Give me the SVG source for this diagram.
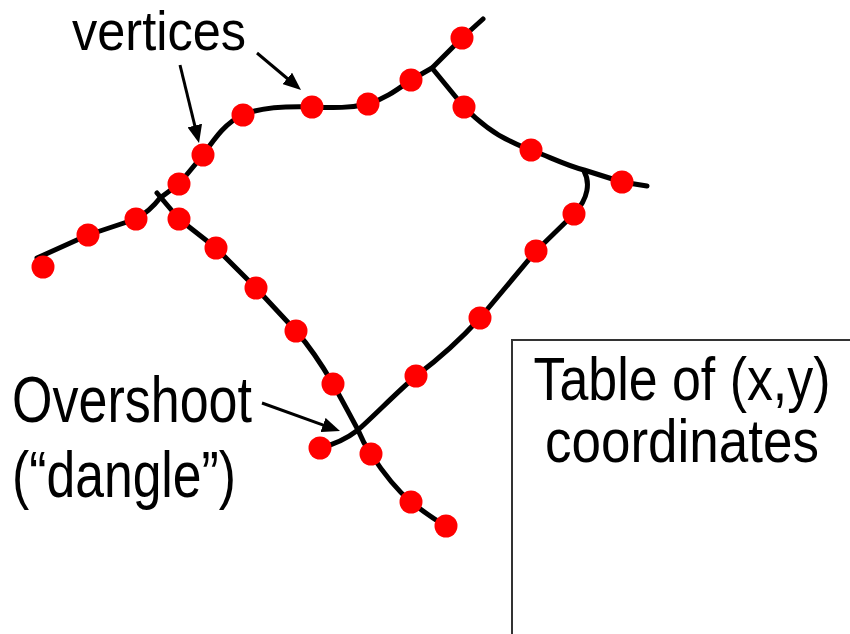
<svg xmlns="http://www.w3.org/2000/svg" width="850" height="634" viewBox="0 0 850 634">
  <style>
    .line { fill: none; stroke: #000; stroke-width: 5; stroke-linejoin: round; stroke-linecap: round; }
    .v { fill: #ff0000; }
    .arr { fill: none; stroke: #000; stroke-width: 3; marker-end: url(#ah); }
    .lbl { font-family: "Liberation Sans", Arial, sans-serif; fill: #000; }
  </style>
  <defs>
    <marker id="ah" markerUnits="userSpaceOnUse" markerWidth="18" markerHeight="15" refX="4" refY="7.5" orient="auto">
      <path d="M0,0 L18,7.5 L0,15 Z" fill="#000"/>
    </marker>
  </defs>
  <rect width="850" height="634" fill="#fff"/>

  <g id="connectors">
    <path class="line" d="M37,258 L88,235 L136,219 Q150,211 160,198 L179,184 L203,155 C215,138 226,122 243,115 C258,108 280,106 312,107 C335,108 350,108 368,104 C385,99 398,89 411,80 L432,68 L462,38 L483,19"/>
    <path class="line" d="M432,68 L464,107 C478,121 492,133 510,141 C520,146 525,148 531,150 C550,157 565,165 584,170 L622,182 L647,186"/>
    <path class="line" d="M157,193 L179,219 L216,248 L256,288 L296,331 C310,347 322,365 333,384 C342,400 350,415 358,430 C362,440 366,447 371,454 C384,474 397,490 411,502 C424,512 435,520 446,526"/>
    <path class="line" d="M584,171 C590,182 589,198 574,214 L536,251 L480,318 C460,340 440,358 416,376 C395,394 375,415 358,430 C345,440 332,445 320,448"/>
  </g>

  <g id="vertices-dots">
    <circle class="v" cx="43" cy="267" r="11.5"/>
    <circle class="v" cx="88" cy="235" r="11.5"/>
    <circle class="v" cx="136" cy="219" r="11.5"/>
    <circle class="v" cx="179" cy="184" r="11.5"/>
    <circle class="v" cx="203" cy="155" r="11.5"/>
    <circle class="v" cx="243" cy="115" r="11.5"/>
    <circle class="v" cx="312" cy="107" r="11.5"/>
    <circle class="v" cx="368" cy="104" r="11.5"/>
    <circle class="v" cx="411" cy="80" r="11.5"/>
    <circle class="v" cx="462" cy="38" r="11.5"/>
    <circle class="v" cx="464" cy="107" r="11.5"/>
    <circle class="v" cx="531" cy="150" r="11.5"/>
    <circle class="v" cx="622" cy="182" r="11.5"/>
    <circle class="v" cx="574" cy="214" r="11.5"/>
    <circle class="v" cx="536" cy="251" r="11.5"/>
    <circle class="v" cx="480" cy="318" r="11.5"/>
    <circle class="v" cx="416" cy="376" r="11.5"/>
    <circle class="v" cx="320" cy="448" r="11.5"/>
    <circle class="v" cx="179" cy="219" r="11.5"/>
    <circle class="v" cx="216" cy="248" r="11.5"/>
    <circle class="v" cx="256" cy="288" r="11.5"/>
    <circle class="v" cx="296" cy="331" r="11.5"/>
    <circle class="v" cx="333" cy="384" r="11.5"/>
    <circle class="v" cx="371" cy="454" r="11.5"/>
    <circle class="v" cx="411" cy="502" r="11.5"/>
    <circle class="v" cx="446" cy="526" r="11.5"/>
  </g>

  <g id="label-vertices">
    <text class="lbl" x="72" y="50" font-size="56" textLength="174" lengthAdjust="spacingAndGlyphs">vertices</text>
    <line class="arr" x1="180" y1="65" x2="195.7" y2="129.4"/>
    <line class="arr" x1="257" y1="53" x2="290.3" y2="81"/>
  </g>

  <g id="label-overshoot">
    <text class="lbl" x="12" y="422" font-size="64" textLength="240" lengthAdjust="spacingAndGlyphs">Overshoot</text>
    <text class="lbl" x="12" y="497" font-size="64" textLength="224" lengthAdjust="spacingAndGlyphs">(“dangle”)</text>
    <line class="arr" x1="262" y1="403" x2="326.8" y2="426.3"/>
  </g>

  <g id="table">
    <path d="M512,634 V340 H850" fill="none" stroke="#333" stroke-width="2"/>
    <text class="lbl" x="682" y="400" font-size="62" text-anchor="middle" textLength="297" lengthAdjust="spacingAndGlyphs">Table of (x,y)</text>
    <text class="lbl" x="682" y="462" font-size="62" text-anchor="middle" textLength="274" lengthAdjust="spacingAndGlyphs">coordinates</text>
  </g>
</svg>
